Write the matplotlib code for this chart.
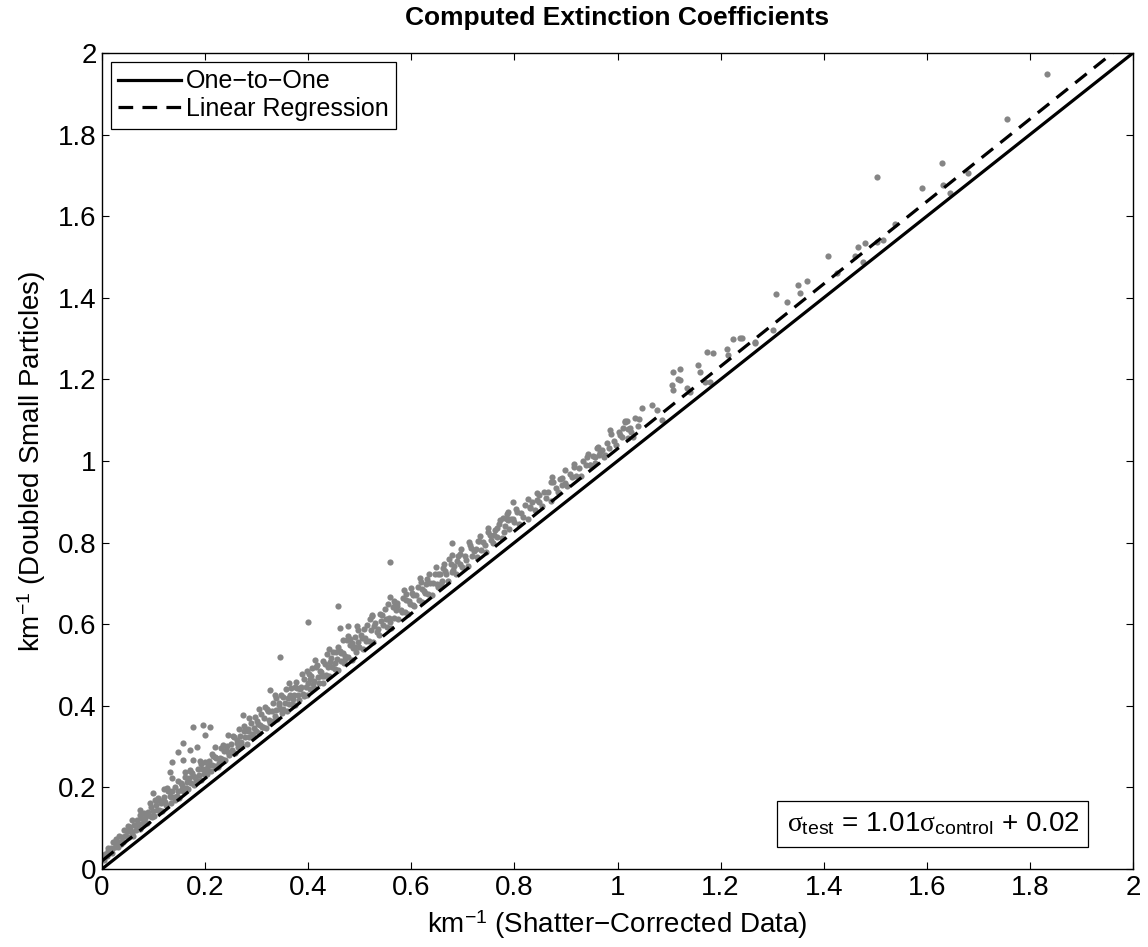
import numpy as np
import matplotlib
matplotlib.use("Agg")
import matplotlib.pyplot as plt

plt.rcParams["font.family"] = ["Liberation Sans", "DejaVu Sans"]
plt.rcParams["mathtext.fontset"] = "custom"
plt.rcParams["mathtext.rm"] = "Liberation Sans"
plt.rcParams["mathtext.it"] = "Liberation Serif"
plt.rcParams["mathtext.bf"] = "Liberation Sans:bold"

# extinction (km^-1): shatter-corrected data vs. doubled small particles
control_ext = [
    0.003, 0.006, 0.009, 0.011, 0.014, 0.017, 0.019, 0.022, 0.025, 0.027, 0.030, 0.033,
    0.035, 0.038, 0.041, 0.043, 0.046, 0.049, 0.052, 0.054, 0.057, 0.060, 0.062, 0.065,
    0.068, 0.071, 0.073, 0.076, 0.079, 0.082, 0.084, 0.087, 0.090, 0.093, 0.095, 0.098,
    0.101, 0.104, 0.106, 0.109, 0.112, 0.115, 0.117, 0.120, 0.123, 0.125, 0.128, 0.131,
    0.134, 0.136, 0.139, 0.142, 0.145, 0.147, 0.150, 0.153, 0.156, 0.158, 0.161, 0.164,
    0.167, 0.169, 0.172, 0.175, 0.178, 0.180, 0.183, 0.186, 0.189, 0.191, 0.194, 0.197,
    0.200, 0.203, 0.205, 0.208, 0.211, 0.214, 0.216, 0.219, 0.222, 0.225, 0.228, 0.230,
    0.233, 0.236, 0.239, 0.242, 0.244, 0.247, 0.250, 0.253, 0.256, 0.258, 0.261, 0.264,
    0.267, 0.270, 0.272, 0.275, 0.278, 0.281, 0.284, 0.286, 0.289, 0.292, 0.295, 0.298,
    0.301, 0.304, 0.307, 0.309, 0.312, 0.315, 0.318, 0.321, 0.323, 0.326, 0.329, 0.332,
    0.335, 0.338, 0.340, 0.343, 0.346, 0.349, 0.352, 0.355, 0.358, 0.360, 0.363, 0.366,
    0.369, 0.372, 0.375, 0.378, 0.380, 0.383, 0.386, 0.389, 0.392, 0.395, 0.398, 0.400,
    0.403, 0.406, 0.409, 0.412, 0.415, 0.418, 0.420, 0.423, 0.426, 0.429, 0.432, 0.435,
    0.438, 0.440, 0.443, 0.446, 0.449, 0.452, 0.455, 0.458, 0.461, 0.464, 0.467, 0.470,
    0.472, 0.475, 0.478, 0.481, 0.484, 0.487, 0.490, 0.493, 0.496, 0.499,
    0.503, 0.507, 0.511, 0.514, 0.518, 0.522, 0.526, 0.529, 0.533, 0.537, 0.541, 0.545,
    0.548, 0.552, 0.556, 0.560, 0.564, 0.567, 0.571, 0.575, 0.579, 0.583, 0.587, 0.590,
    0.594, 0.598, 0.602, 0.606, 0.610, 0.614, 0.618, 0.621, 0.625, 0.629, 0.633, 0.637,
    0.641, 0.645, 0.649, 0.652, 0.656, 0.660, 0.664, 0.668, 0.672, 0.676, 0.679, 0.683,
    0.687, 0.691, 0.695, 0.699,
    0.704, 0.709, 0.713, 0.718, 0.722, 0.727, 0.731, 0.736, 0.740, 0.745, 0.749, 0.754,
    0.758, 0.763, 0.767, 0.772, 0.776, 0.781, 0.785, 0.790, 0.794, 0.799, 0.803, 0.808,
    0.812, 0.817, 0.821, 0.826, 0.830, 0.835, 0.839, 0.844, 0.848, 0.853, 0.857, 0.862,
    0.866, 0.871, 0.875, 0.880, 0.884, 0.889, 0.893, 0.898, 0.902, 0.907, 0.911, 0.916,
    0.920, 0.925, 0.929, 0.934, 0.938, 0.943, 0.947, 0.952, 0.956, 0.961, 0.965, 0.970,
    0.974, 0.979, 0.984, 0.988, 0.993, 0.997, 1.002, 1.008, 1.014, 1.020, 1.027, 1.034,
    1.041, 1.048,
    # second pass through the dense core
    0.005, 0.012, 0.020, 0.028, 0.036, 0.044, 0.051, 0.058, 0.066, 0.074, 0.081, 0.088,
    0.096, 0.103, 0.110, 0.118, 0.126, 0.133, 0.141, 0.148, 0.155, 0.162, 0.170, 0.177,
    0.184, 0.192, 0.199, 0.206, 0.213, 0.220, 0.227, 0.234, 0.241, 0.248, 0.255, 0.262,
    0.269, 0.276, 0.283, 0.290, 0.297, 0.303, 0.310, 0.317, 0.324, 0.331, 0.337, 0.344,
    0.351, 0.357, 0.364, 0.371, 0.377, 0.384, 0.391, 0.397, 0.404, 0.411, 0.417, 0.424,
    0.431, 0.437, 0.444, 0.451, 0.457, 0.464, 0.471, 0.477, 0.484, 0.491, 0.497, 0.505,
    0.513, 0.520, 0.528, 0.535, 0.543, 0.550, 0.558, 0.566, 0.573, 0.581, 0.589, 0.596,
    0.604, 0.612, 0.620, 0.627, 0.635, 0.643, 0.651, 0.658, 0.666, 0.674, 0.681, 0.689,
    0.697, 0.706, 0.716, 0.725, 0.734, 0.743, 0.752, 0.761, 0.770, 0.779, 0.788, 0.797,
    # upper edge of the core
    0.120, 0.160, 0.190, 0.220, 0.245, 0.265, 0.285, 0.305, 0.320, 0.335, 0.348, 0.362,
    0.374, 0.388, 0.401, 0.414, 0.428, 0.441, 0.454, 0.468, 0.481, 0.494, 0.509, 0.524,
    0.539, 0.554, 0.569, 0.585, 0.600, 0.616, 0.631, 0.647, 0.662, 0.678, 0.694, 0.712,
    0.730, 0.748, 0.766, 0.785, 0.805, 0.826, 0.848, 0.870, 0.893, 0.916,
    # points lying well above the main cloud
    0.058, 0.074, 0.093, 0.099, 0.109, 0.126, 0.132, 0.136, 0.136, 0.147, 0.157, 0.157,
    0.171, 0.171, 0.177, 0.184, 0.177, 0.196, 0.209, 0.200, 0.274,
    0.326, 0.345, 0.407, 0.400, 0.458, 0.462, 0.477, 0.524, 0.559, 0.572, 0.603, 0.559,
    0.679, 0.797, 0.873, 0.844, 0.898, 0.778, 0.788, 0.830,
    # sparse high-extinction tail
    0.941, 0.947, 0.956, 0.962, 0.966, 0.976, 0.985, 1.005, 1.011, 1.015, 1.018, 1.020,
    1.024, 1.030, 1.040, 1.067, 1.077, 1.086, 1.106, 1.108, 1.108, 1.117, 1.121, 1.121,
    1.135, 1.141, 1.157, 1.160, 1.170, 1.179, 1.174, 1.186, 1.212, 1.215, 1.224, 1.238,
    1.242, 1.267, 1.267, 1.302, 1.307, 1.329, 1.350, 1.354, 1.368, 1.408, 1.426, 1.461,
    1.467, 1.476, 1.480, 1.503, 1.503, 1.515, 1.538, 1.591, 1.629, 1.631, 1.645, 1.680,
    1.756, 1.833,
]
test_ext = [
    0.021, 0.036, 0.031, 0.052, 0.040, 0.052, 0.039, 0.066, 0.054, 0.064, 0.053, 0.080,
    0.066, 0.078, 0.065, 0.095, 0.080, 0.092, 0.079, 0.103, 0.093, 0.082, 0.107, 0.096,
    0.121, 0.110, 0.098, 0.124, 0.112, 0.137, 0.125, 0.113, 0.140, 0.129, 0.153, 0.142,
    0.129, 0.156, 0.144, 0.170, 0.142, 0.161, 0.141, 0.177, 0.163, 0.156, 0.191, 0.179,
    0.161, 0.190, 0.176, 0.202, 0.178, 0.192, 0.175, 0.211, 0.197, 0.190, 0.225, 0.213,
    0.196, 0.224, 0.210, 0.236, 0.205, 0.226, 0.217, 0.245, 0.231, 0.217, 0.246, 0.233,
    0.263, 0.233, 0.252, 0.265, 0.239, 0.254, 0.278, 0.252, 0.272, 0.250, 0.272, 0.296,
    0.270, 0.290, 0.268, 0.302, 0.287, 0.279, 0.306, 0.292, 0.323, 0.285, 0.309, 0.299,
    0.326, 0.312, 0.302, 0.339, 0.324, 0.307, 0.337, 0.324, 0.358, 0.325, 0.345, 0.339,
    0.362, 0.333, 0.354, 0.381, 0.348, 0.370, 0.345, 0.387, 0.366, 0.359, 0.387, 0.407,
    0.374, 0.389, 0.368, 0.407, 0.391, 0.383, 0.422, 0.407, 0.388, 0.419, 0.404, 0.443,
    0.405, 0.426, 0.402, 0.444, 0.426, 0.415, 0.447, 0.429, 0.465, 0.445, 0.427, 0.457,
    0.441, 0.474, 0.453, 0.443, 0.494, 0.471, 0.455, 0.486, 0.473, 0.457, 0.503, 0.475,
    0.494, 0.473, 0.508, 0.495, 0.531, 0.489, 0.514, 0.488, 0.535, 0.509, 0.529, 0.504,
    0.523, 0.561, 0.519, 0.548, 0.513, 0.542, 0.568, 0.531, 0.556, 0.545,
    0.574, 0.540, 0.567, 0.598, 0.560, 0.585, 0.556, 0.604, 0.582, 0.573, 0.608, 0.598,
    0.636, 0.592, 0.616, 0.591, 0.642, 0.614, 0.635, 0.612, 0.635, 0.665, 0.630, 0.659,
    0.626, 0.650, 0.677, 0.645, 0.671, 0.660, 0.704, 0.655, 0.682, 0.699, 0.674, 0.700,
    0.671, 0.724, 0.699, 0.690, 0.722, 0.705, 0.747, 0.723, 0.705, 0.747, 0.727, 0.743,
    0.723, 0.767, 0.747, 0.741,
    0.768, 0.743, 0.794, 0.767, 0.780, 0.764, 0.803, 0.781, 0.802, 0.776, 0.827, 0.807,
    0.798, 0.831, 0.814, 0.856, 0.811, 0.840, 0.858, 0.833, 0.858, 0.850, 0.883, 0.846,
    0.873, 0.863, 0.892, 0.859, 0.886, 0.900, 0.881, 0.921, 0.900, 0.889, 0.925, 0.909,
    0.925, 0.903, 0.949, 0.934, 0.925, 0.955, 0.941, 0.978, 0.939, 0.968, 0.961, 0.986,
    0.963, 0.982, 0.963, 1.001, 0.990, 1.018, 0.991, 1.012, 0.994, 1.032, 1.014, 1.028,
    1.010, 1.045, 1.031, 1.067, 1.048, 1.038, 1.071, 1.058, 1.097, 1.078, 1.071, 1.106,
    1.102, 1.129,
    0.032, 0.045, 0.048, 0.073, 0.062, 0.082, 0.106, 0.087, 0.108, 0.132, 0.111, 0.135,
    0.128, 0.169, 0.145, 0.168, 0.196, 0.176, 0.169, 0.215, 0.207, 0.198, 0.239, 0.228,
    0.215, 0.258, 0.244, 0.240, 0.283, 0.275, 0.260, 0.305, 0.291, 0.284, 0.327, 0.317,
    0.300, 0.350, 0.343, 0.330, 0.373, 0.356, 0.349, 0.397, 0.386, 0.362, 0.420, 0.401,
    0.391, 0.442, 0.427, 0.416, 0.458, 0.440, 0.424, 0.485, 0.466, 0.460, 0.501, 0.482,
    0.472, 0.527, 0.516, 0.505, 0.544, 0.530, 0.514, 0.570, 0.554, 0.543, 0.586, 0.566,
    0.558, 0.612, 0.596, 0.589, 0.622, 0.613, 0.605, 0.656, 0.644, 0.631, 0.674, 0.656,
    0.648, 0.690, 0.686, 0.676, 0.723, 0.701, 0.723, 0.698, 0.730, 0.759, 0.734, 0.756,
    0.785, 0.758, 0.786, 0.785, 0.817, 0.793, 0.818, 0.819, 0.845, 0.825, 0.856, 0.857,
    0.195, 0.238, 0.264, 0.300, 0.328, 0.342, 0.370, 0.393, 0.391, 0.427, 0.427, 0.457,
    0.447, 0.478, 0.479, 0.511, 0.510, 0.540, 0.531, 0.562, 0.564, 0.595, 0.589, 0.622,
    0.624, 0.650, 0.651, 0.684, 0.688, 0.713, 0.710, 0.741, 0.737, 0.769, 0.773, 0.802,
    0.803, 0.835, 0.835, 0.869, 0.875, 0.908, 0.916, 0.949, 0.959, 0.993,
    0.120, 0.145, 0.162, 0.186, 0.174, 0.199, 0.238, 0.223, 0.262, 0.287, 0.267, 0.309,
    0.243, 0.292, 0.267, 0.299, 0.348, 0.353, 0.348, 0.328, 0.377,
    0.439, 0.520, 0.493, 0.605, 0.645, 0.591, 0.596, 0.620, 0.667, 0.652, 0.672, 0.752,
    0.799, 0.900, 0.961, 0.904, 0.946, 0.860, 0.875, 0.887,
    1.010, 0.990, 1.010, 1.034, 1.022, 1.015, 1.076, 1.064, 1.081, 1.096, 1.098, 1.056,
    1.081, 1.059, 1.086, 1.137, 1.125, 1.100, 1.186, 1.174, 1.218, 1.201, 1.225, 1.199,
    1.179, 1.169, 1.235, 1.218, 1.194, 1.194, 1.267, 1.265, 1.275, 1.260, 1.299, 1.302,
    1.301, 1.289, 1.292, 1.321, 1.409, 1.390, 1.431, 1.412, 1.441, 1.502, 1.461, 1.502,
    1.525, 1.488, 1.534, 1.537, 1.696, 1.542, 1.581, 1.669, 1.730, 1.676, 1.657, 1.706,
    1.838, 1.949,
]

# regression fit: sigma_test = slope * sigma_control + intercept
slope = 1.01
intercept = 0.02
line_x = [0.0, 2.0]

fig = plt.figure(figsize=(11.48, 9.47), dpi=100)
ax = fig.add_axes([0.0889, 0.0824, 0.8980, 0.8616])

ax.scatter(control_ext, test_ext, s=20, c="#858585", linewidths=0, zorder=2)

fit_y = [slope * v + intercept for v in line_x]
ax.plot(line_x, line_x, color="black", lw=2.3, zorder=3, label="One\u2212to\u2212One")
ax.plot(line_x, fit_y, color="black", lw=2.3, linestyle=(0, (4.6, 2.9)),
        zorder=3, label="Linear Regression")

ax.set_xlim(0, 2)
ax.set_ylim(0, 2)
ticks = np.arange(0, 2.01, 0.2)
labels = ["0", "0.2", "0.4", "0.6", "0.8", "1", "1.2", "1.4", "1.6", "1.8", "2"]
ax.set_xticks(ticks)
ax.set_xticklabels(labels)
ax.set_yticks(ticks)
ax.set_yticklabels(labels)
ax.tick_params(direction="in", length=5, width=0.8, top=True, right=True,
               labelsize=20, pad=4)
for sp in ax.spines.values():
    sp.set_linewidth(1.0)

ax.set_title("Computed Extinction Coefficients", fontsize=19, fontweight="bold", pad=20)
ax.set_xlabel("km$^{-1}$ (Shatter\u2212Corrected Data)", fontsize=20, labelpad=6)
ax.set_ylabel("km$^{-1}$ (Doubled Small Particles)", fontsize=20, labelpad=7)

leg = ax.legend(loc="upper left", fontsize=18, fancybox=False, framealpha=1,
                edgecolor="black", handlelength=2.5, borderpad=0.3,
                labelspacing=0.15, handletextpad=0.2, borderaxespad=0.35)
leg.get_frame().set_linewidth(0.9)

ax.text(0.806, 0.055,
        r"$\sigma_{\mathrm{test}}$ = 1.01$\sigma_{\mathrm{control}}$ + 0.02",
        transform=ax.transAxes, ha="center", va="center", fontsize=20,
        bbox=dict(boxstyle="square,pad=0.33", fc="white", ec="black", lw=0.9))

fig.savefig("out.png", dpi=100)
